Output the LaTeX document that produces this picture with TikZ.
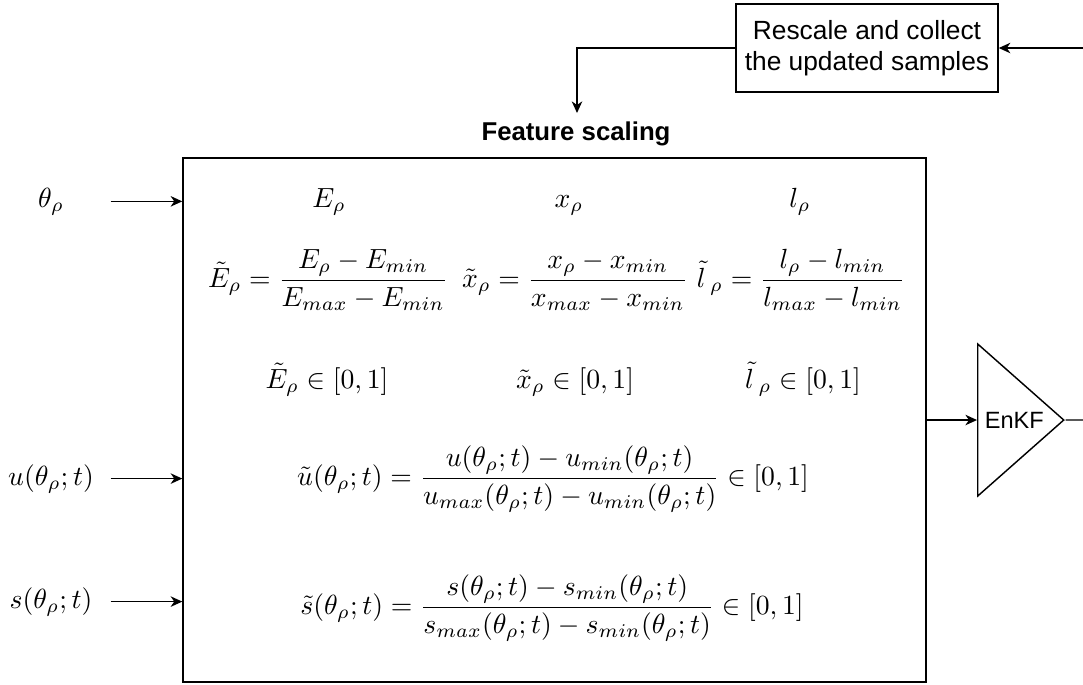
\documentclass[tikz,border=0pt]{standalone}
\usepackage{fontspec}
\usepackage{amsmath}
\usetikzlibrary{arrows.meta,shapes.geometric,positioning}
\newfontfamily\drawio{Liberation Sans}
\newcommand{\pxu}{0.361pt}
\newcommand{\rng}{\in[0,1]}
\tikzset{
  blk/.style={draw, line width=0.52pt, inner sep=0pt},
  arr/.style={line width=0.52pt, -{Stealth[length=4.2pt,width=3.8pt,inset=1.3pt]}},
  txt/.style={font=\drawio\fontsize{9.5}{11.2}\selectfont, align=center},
  eq/.style={inner sep=0pt, anchor=base},
  inlbl/.style={eq, minimum width=118*\pxu},
}

\begin{document}
\begin{tikzpicture}[x=\pxu, y=-\pxu]
  \useasboundingbox (0,0) rectangle (1083,684);
  % feedback
  \node[blk, txt, minimum width=262*\pxu, minimum height=88*\pxu] (rescale) at (867,48) {Rescale and collect\\the updated samples};
  \coordinate (fbin) at (1083,48);
  \coordinate (fbout) at (577,113);
  \draw[arr] (fbin) -- (rescale.east);
  \draw[arr] (rescale.west) -| (fbout);

  \node[txt, font=\drawio\bfseries\fontsize{9.3}{11.2}\selectfont] (title) at (576,134) {Feature scaling};
  \node[blk, minimum width=743*\pxu, minimum height=524*\pxu] (scaling) at (554.5,420) {};

  % inputs
  \node[inlbl] (theta) at (51,207) {$\theta_\rho$};
  \node[inlbl] (uin) at (51,485) {$u(\theta_\rho;t)$};
  \node[inlbl] (sin) at (51,608) {$s(\theta_\rho;t)$};
  \foreach \n in {theta,uin,sin}
    \draw[arr] (\n.east) -- (\n.east -| scaling.west);

  % parameters
  \node[eq] (E) at (329,207) {$E_\rho$};
  \node[eq] (x) at (569,207) {$x_\rho$};
  \node[eq] (l) at (800,207) {$l_\rho$};
  \node[eq] (Ef) at (328,287) {$\tilde{E}_\rho=\dfrac{E_\rho-E_{min}}{E_{max}-E_{min}}$};
  \node[eq] (xf) at (575,287) {$\tilde{x}_\rho=\dfrac{x_\rho-x_{min}}{x_{max}-x_{min}}$};
  \node[eq] (lf) at (801,287) {$\tilde{l}\,_\rho=\dfrac{l_\rho-l_{min}}{l_{max}-l_{min}}$};
  \node[eq] (Er) at (327,388) {$\tilde{E}_\rho\rng$};
  \node[eq] (xr) at (575,388) {$\tilde{x}_\rho\rng$};
  \node[eq] (lr) at (803,388) {$\tilde{l}\,_\rho\rng$};

  % states
  \node[eq] (uf) at (553,485) {$\tilde{u}(\theta_\rho;t)=\dfrac{u(\theta_\rho;t)-u_{min}(\theta_\rho;t)}{u_{max}(\theta_\rho;t)-u_{min}(\theta_\rho;t)}\rng$};
  \node[eq] (sf) at (552,614) {$\tilde{s}(\theta_\rho;t)=\dfrac{s(\theta_\rho;t)-s_{min}(\theta_\rho;t)}{s_{max}(\theta_\rho;t)-s_{min}(\theta_\rho;t)}\rng$};

  % filter
  \node[blk, isosceles triangle, isosceles triangle stretches, minimum width=152*\pxu, minimum height=86*\pxu, anchor=west, font=\drawio\fontsize{8.5}{10}\selectfont] (enkf) at (977,420) {EnKF};
  \coordinate (enkfout) at (1083,420);
  \draw[arr] (scaling.east) -- (enkf.west);
  \draw[line width=0.52pt] (enkf.apex) -- (enkfout);
\end{tikzpicture}
\end{document}
